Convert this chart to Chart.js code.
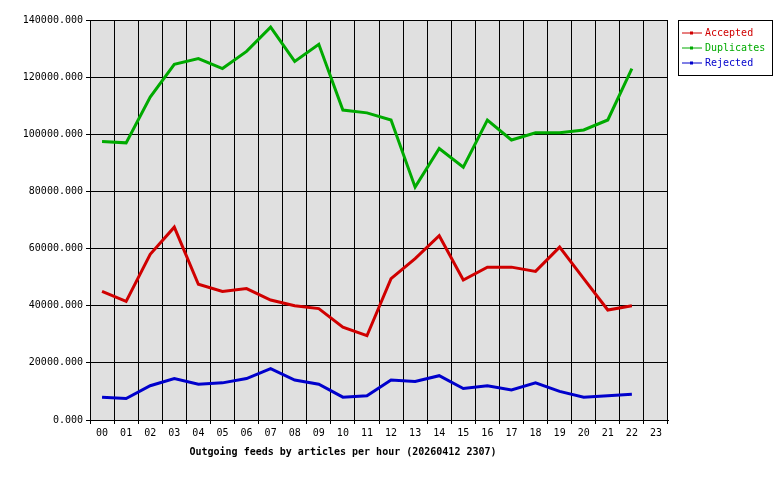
<!DOCTYPE html>
<html><head><script src="https://cdn.jsdelivr.net/npm/chart.js@4"></script>
<style>body{margin:0;background:#fff}#w{width:780px;height:480px}</style></head>
<body><div id="w"><canvas id="c"></canvas></div>
<script>
const hours=["00","01","02","03","04","05","06","07","08","09","10","11","12","13","14","15","16","17","18","19","20","21","22","23"];
const accepted=[45000,41500,58000,67500,47500,45000,46000,42000,40000,39000,32500,29500,49500,56500,64500,49000,53500,53500,52000,60500,49500,38500,40000,null];
const duplicates=[97500,97000,113000,124500,126500,123000,129000,137500,125500,131500,108500,107500,105000,81500,95000,88500,105000,98000,100500,100500,101500,105000,123000,null];
const rejected=[8000,7500,12000,14500,12500,13000,14500,18000,14000,12500,8000,8500,14000,13500,15500,11000,12000,10500,13000,10000,8000,8500,9000,null];
const F='"DejaVu Sans Mono", monospace';
const bg={id:'bg',beforeDraw(c){const a=c.chartArea,x=c.ctx;x.save();x.fillStyle='#e0e0e0';x.fillRect(a.left,a.top,a.right-a.left,a.bottom-a.top);x.restore();},
afterDraw(c){const x=c.ctx;x.save();x.fillStyle='#fff';x.strokeStyle='#000';x.lineWidth=1;x.fillRect(678.5,20.5,94,55);x.strokeRect(678.5,20.5,94,55);
x.font='10px '+F;x.textBaseline='middle';c.data.datasets.forEach((d,i)=>{const y=33+i*15;x.strokeStyle=d.borderColor;x.beginPath();x.moveTo(682,y);x.lineTo(702,y);x.stroke();x.fillStyle=d.borderColor;x.fillRect(690,y-1.5,3,3);x.fillText(d.label,705,y);});
x.fillStyle='#000';x.font='bold 10px '+F;x.textAlign='center';x.fillText('Outgoing feeds by articles per hour (20260412 2307)',343,452);x.restore();}};
const ds=(l,d,c)=>({label:l,data:d,borderColor:c,backgroundColor:c,borderWidth:3,pointRadius:0,tension:0});
new Chart(document.getElementById('c'),{type:'line',data:{labels:hours,datasets:[ds('Accepted',accepted,'#d00000'),ds('Duplicates',duplicates,'#00aa00'),ds('Rejected',rejected,'#0000cc')]},
options:{responsive:true,maintainAspectRatio:false,animation:false,layout:{padding:{top:20,right:112,bottom:38,left:0}},
plugins:{legend:{display:false},tooltip:{enabled:false}},
scales:{x:{offset:true,grid:{color:'#000',offset:true,drawTicks:true,tickLength:4},border:{color:'#000'},ticks:{color:'#000',font:{family:F,size:10},maxRotation:0,autoSkip:false}},
y:{min:0,max:140000,afterFit(s){s.width=90;},grid:{color:'#000',tickLength:4},border:{color:'#000'},ticks:{stepSize:20000,color:'#000',font:{family:F,size:10},callback:v=>v.toFixed(3)}}}},plugins:[bg]});
</script></body></html>
